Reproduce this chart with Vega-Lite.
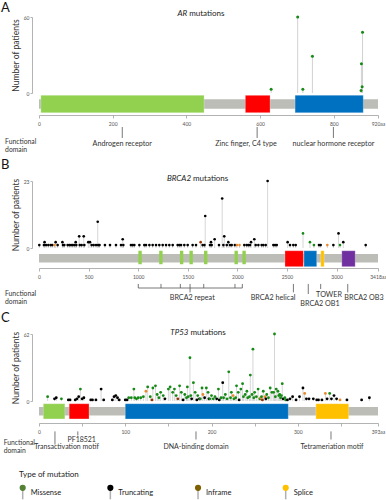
{
"$schema":"https://vega.github.io/schema/vega-lite/v6.json",
"padding":{"left":1,"top":2,"right":0,"bottom":0},
"background":"white",
"config":{"view":{"stroke":null},"font":"Lato",
 "axis":{"grid":false,"domainColor":"#a0a0a0","tickColor":"#a0a0a0","domainWidth":0.8,"tickWidth":0.8,"labelFont":"Lato","labelFontSize":5,"labelColor":"#555555","labelFlush":false,"labelOverlap":false,"labelBound":false,"titleFont":"Lato","titleFontWeight":"normal","titleColor":"#333333"}},
"datasets":{
"one":[{}],
"proteins":[{"gene":"AR","start":0,"length":920},{"gene":"BRCA2","start":0,"length":3418},{"gene":"TP53","start":0,"length":393}],
"types":[{"type":"Missense"},{"type":"Truncating"},{"type":"Inframe"},{"type":"Splice"}],
"arMut":[{"pos":630,"count":3,"type":"Missense"},{"pos":702,"count":60,"type":"Missense"},{"pos":716,"count":3,"type":"Missense"},{"pos":742,"count":29,"type":"Missense"},{"pos":874,"count":2,"type":"Missense"},{"pos":875,"count":23,"type":"Missense"},{"pos":877,"count":5,"type":"Missense"},{"pos":878,"count":48,"type":"Missense"}],
"brcaMut":[{"pos":3,"count":1,"type":"Truncating"},{"pos":50,"count":1,"type":"Truncating"},{"pos":56,"count":2,"type":"Truncating"},{"pos":71,"count":1,"type":"Truncating"},{"pos":94,"count":1,"type":"Truncating"},{"pos":118,"count":1,"type":"Truncating"},{"pos":134,"count":1,"type":"Truncating"},{"pos":155,"count":1,"type":"Splice"},{"pos":168,"count":2,"type":"Truncating"},{"pos":188,"count":1,"type":"Truncating"},{"pos":236,"count":2,"type":"Truncating"},{"pos":242,"count":1,"type":"Truncating"},{"pos":255,"count":1,"type":"Truncating"},{"pos":289,"count":1,"type":"Truncating"},{"pos":306,"count":1,"type":"Truncating"},{"pos":323,"count":1,"type":"Truncating"},{"pos":339,"count":1,"type":"Truncating"},{"pos":356,"count":1,"type":"Truncating"},{"pos":370,"count":2,"type":"Truncating"},{"pos":376,"count":1,"type":"Truncating"},{"pos":405,"count":4,"type":"Truncating"},{"pos":411,"count":1,"type":"Truncating"},{"pos":430,"count":1,"type":"Truncating"},{"pos":451,"count":4,"type":"Truncating"},{"pos":457,"count":1,"type":"Truncating"},{"pos":497,"count":2,"type":"Truncating"},{"pos":514,"count":2,"type":"Truncating"},{"pos":531,"count":1,"type":"Truncating"},{"pos":551,"count":1,"type":"Truncating"},{"pos":575,"count":1,"type":"Truncating"},{"pos":592,"count":9,"type":"Truncating"},{"pos":597,"count":1,"type":"Truncating"},{"pos":610,"count":1,"type":"Truncating"},{"pos":665,"count":1,"type":"Truncating"},{"pos":716,"count":1,"type":"Truncating"},{"pos":776,"count":1,"type":"Truncating"},{"pos":827,"count":1,"type":"Truncating"},{"pos":844,"count":3,"type":"Truncating"},{"pos":850,"count":1,"type":"Truncating"},{"pos":927,"count":1,"type":"Truncating"},{"pos":944,"count":1,"type":"Truncating"},{"pos":961,"count":1,"type":"Truncating"},{"pos":1012,"count":1,"type":"Truncating"},{"pos":1062,"count":1,"type":"Truncating"},{"pos":1079,"count":1,"type":"Truncating"},{"pos":1113,"count":1,"type":"Truncating"},{"pos":1146,"count":1,"type":"Truncating"},{"pos":1180,"count":1,"type":"Truncating"},{"pos":1213,"count":1,"type":"Truncating"},{"pos":1247,"count":1,"type":"Truncating"},{"pos":1281,"count":1,"type":"Truncating"},{"pos":1314,"count":1,"type":"Truncating"},{"pos":1348,"count":1,"type":"Truncating"},{"pos":1398,"count":1,"type":"Truncating"},{"pos":1415,"count":1,"type":"Truncating"},{"pos":1432,"count":1,"type":"Truncating"},{"pos":1465,"count":1,"type":"Truncating"},{"pos":1499,"count":1,"type":"Truncating"},{"pos":1549,"count":1,"type":"Truncating"},{"pos":1583,"count":1,"type":"Truncating"},{"pos":1630,"count":2,"type":"Inframe"},{"pos":1650,"count":1,"type":"Truncating"},{"pos":1668,"count":1,"type":"Truncating"},{"pos":1676,"count":11,"type":"Truncating"},{"pos":1724,"count":1,"type":"Truncating"},{"pos":1734,"count":2,"type":"Truncating"},{"pos":1741,"count":1,"type":"Truncating"},{"pos":1771,"count":3,"type":"Truncating"},{"pos":1815,"count":1,"type":"Truncating"},{"pos":1847,"count":17,"type":"Truncating"},{"pos":1859,"count":1,"type":"Truncating"},{"pos":1868,"count":4,"type":"Truncating"},{"pos":1893,"count":1,"type":"Truncating"},{"pos":1909,"count":2,"type":"Truncating"},{"pos":1926,"count":1,"type":"Truncating"},{"pos":1943,"count":1,"type":"Truncating"},{"pos":1975,"count":1,"type":"Truncating"},{"pos":1995,"count":1,"type":"Splice"},{"pos":2022,"count":1,"type":"Splice"},{"pos":2070,"count":1,"type":"Truncating"},{"pos":2094,"count":1,"type":"Truncating"},{"pos":2111,"count":1,"type":"Truncating"},{"pos":2128,"count":1,"type":"Truncating"},{"pos":2138,"count":2,"type":"Truncating"},{"pos":2171,"count":3,"type":"Truncating"},{"pos":2185,"count":1,"type":"Truncating"},{"pos":2212,"count":1,"type":"Truncating"},{"pos":2245,"count":1,"type":"Truncating"},{"pos":2262,"count":1,"type":"Truncating"},{"pos":2286,"count":1,"type":"Truncating"},{"pos":2305,"count":23,"type":"Truncating"},{"pos":2363,"count":1,"type":"Truncating"},{"pos":2380,"count":1,"type":"Truncating"},{"pos":2397,"count":1,"type":"Truncating"},{"pos":2507,"count":2,"type":"Truncating"},{"pos":2531,"count":1,"type":"Truncating"},{"pos":2564,"count":1,"type":"Truncating"},{"pos":2588,"count":1,"type":"Truncating"},{"pos":2662,"count":5,"type":"Missense"},{"pos":2732,"count":2,"type":"Missense"},{"pos":2772,"count":1,"type":"Missense"},{"pos":2823,"count":1,"type":"Truncating"},{"pos":2840,"count":1,"type":"Truncating"},{"pos":2907,"count":1,"type":"Splice"},{"pos":2968,"count":1,"type":"Truncating"},{"pos":3020,"count":5,"type":"Truncating"},{"pos":3035,"count":1,"type":"Missense"},{"pos":3068,"count":2,"type":"Truncating"},{"pos":3294,"count":1,"type":"Truncating"}],
"tpMut":[{"pos":10,"count":4,"type":"Missense"},{"pos":18,"count":2,"type":"Truncating"},{"pos":20,"count":3,"type":"Truncating"},{"pos":26,"count":2,"type":"Missense"},{"pos":34,"count":1,"type":"Truncating"},{"pos":36,"count":1,"type":"Truncating"},{"pos":42,"count":1,"type":"Truncating"},{"pos":44,"count":2,"type":"Truncating"},{"pos":46,"count":4,"type":"Truncating"},{"pos":48,"count":11,"type":"Missense"},{"pos":50,"count":2,"type":"Truncating"},{"pos":52,"count":3,"type":"Truncating"},{"pos":60,"count":1,"type":"Truncating"},{"pos":62,"count":1,"type":"Truncating"},{"pos":66,"count":1,"type":"Truncating"},{"pos":72,"count":11,"type":"Truncating"},{"pos":75,"count":1,"type":"Truncating"},{"pos":85,"count":1,"type":"Truncating"},{"pos":87,"count":4,"type":"Truncating"},{"pos":89,"count":5,"type":"Truncating"},{"pos":91,"count":3,"type":"Truncating"},{"pos":93,"count":1,"type":"Truncating"},{"pos":100,"count":1,"type":"Truncating"},{"pos":102,"count":1,"type":"Truncating"},{"pos":104,"count":3,"type":"Missense"},{"pos":107,"count":3,"type":"Missense"},{"pos":110,"count":11,"type":"Missense"},{"pos":111,"count":3,"type":"Missense"},{"pos":113,"count":2,"type":"Missense"},{"pos":115,"count":3,"type":"Missense"},{"pos":118,"count":3,"type":"Missense"},{"pos":121,"count":4,"type":"Missense"},{"pos":124,"count":9,"type":"Splice"},{"pos":126,"count":13,"type":"Missense"},{"pos":129,"count":4,"type":"Missense"},{"pos":131,"count":1,"type":"Inframe"},{"pos":132,"count":12,"type":"Missense"},{"pos":135,"count":14,"type":"Missense"},{"pos":137,"count":6,"type":"Missense"},{"pos":139,"count":3,"type":"Missense"},{"pos":141,"count":8,"type":"Missense"},{"pos":144,"count":5,"type":"Missense"},{"pos":146,"count":2,"type":"Truncating"},{"pos":150,"count":11,"type":"Missense"},{"pos":152,"count":13,"type":"Missense"},{"pos":155,"count":8,"type":"Missense"},{"pos":157,"count":11,"type":"Missense"},{"pos":159,"count":5,"type":"Missense"},{"pos":161,"count":2,"type":"Inframe"},{"pos":163,"count":14,"type":"Missense"},{"pos":165,"count":8,"type":"Missense"},{"pos":167,"count":1,"type":"Truncating"},{"pos":169,"count":6,"type":"Missense"},{"pos":171,"count":3,"type":"Missense"},{"pos":172,"count":13,"type":"Missense"},{"pos":173,"count":4,"type":"Missense"},{"pos":175,"count":40,"type":"Missense"},{"pos":176,"count":5,"type":"Missense"},{"pos":177,"count":2,"type":"Truncating"},{"pos":179,"count":17,"type":"Missense"},{"pos":181,"count":8,"type":"Missense"},{"pos":183,"count":1,"type":"Truncating"},{"pos":184,"count":5,"type":"Missense"},{"pos":186,"count":2,"type":"Truncating"},{"pos":187,"count":2,"type":"Missense"},{"pos":189,"count":12,"type":"Missense"},{"pos":190,"count":6,"type":"Splice"},{"pos":192,"count":3,"type":"Truncating"},{"pos":194,"count":12,"type":"Missense"},{"pos":196,"count":8,"type":"Missense"},{"pos":197,"count":2,"type":"Truncating"},{"pos":198,"count":2,"type":"Missense"},{"pos":200,"count":5,"type":"Missense"},{"pos":202,"count":2,"type":"Missense"},{"pos":204,"count":4,"type":"Missense"},{"pos":206,"count":2,"type":"Truncating"},{"pos":208,"count":11,"type":"Missense"},{"pos":209,"count":1,"type":"Truncating"},{"pos":211,"count":3,"type":"Missense"},{"pos":213,"count":17,"type":"Truncating"},{"pos":214,"count":3,"type":"Missense"},{"pos":216,"count":6,"type":"Missense"},{"pos":218,"count":2,"type":"Missense"},{"pos":220,"count":27,"type":"Missense"},{"pos":222,"count":3,"type":"Missense"},{"pos":223,"count":8,"type":"Missense"},{"pos":225,"count":5,"type":"Splice"},{"pos":226,"count":2,"type":"Missense"},{"pos":228,"count":3,"type":"Missense"},{"pos":229,"count":14,"type":"Missense"},{"pos":231,"count":8,"type":"Missense"},{"pos":232,"count":1,"type":"Truncating"},{"pos":234,"count":11,"type":"Missense"},{"pos":236,"count":16,"type":"Missense"},{"pos":237,"count":4,"type":"Missense"},{"pos":239,"count":6,"type":"Missense"},{"pos":241,"count":9,"type":"Missense"},{"pos":242,"count":3,"type":"Missense"},{"pos":244,"count":4,"type":"Missense"},{"pos":245,"count":24,"type":"Missense"},{"pos":247,"count":6,"type":"Missense"},{"pos":248,"count":48,"type":"Missense"},{"pos":249,"count":3,"type":"Missense"},{"pos":250,"count":8,"type":"Missense"},{"pos":252,"count":4,"type":"Missense"},{"pos":254,"count":11,"type":"Missense"},{"pos":256,"count":2,"type":"Missense"},{"pos":257,"count":3,"type":"Splice"},{"pos":258,"count":4,"type":"Missense"},{"pos":259,"count":1,"type":"Inframe"},{"pos":260,"count":9,"type":"Missense"},{"pos":262,"count":4,"type":"Splice"},{"pos":263,"count":2,"type":"Truncating"},{"pos":264,"count":6,"type":"Missense"},{"pos":266,"count":3,"type":"Missense"},{"pos":268,"count":12,"type":"Missense"},{"pos":270,"count":8,"type":"Missense"},{"pos":272,"count":8,"type":"Missense"},{"pos":273,"count":62,"type":"Missense"},{"pos":274,"count":4,"type":"Missense"},{"pos":275,"count":11,"type":"Missense"},{"pos":277,"count":9,"type":"Missense"},{"pos":278,"count":5,"type":"Missense"},{"pos":279,"count":6,"type":"Missense"},{"pos":280,"count":3,"type":"Missense"},{"pos":281,"count":5,"type":"Missense"},{"pos":282,"count":16,"type":"Missense"},{"pos":283,"count":2,"type":"Truncating"},{"pos":285,"count":3,"type":"Missense"},{"pos":286,"count":1,"type":"Missense"},{"pos":288,"count":1,"type":"Truncating"},{"pos":291,"count":2,"type":"Truncating"},{"pos":294,"count":4,"type":"Truncating"},{"pos":298,"count":1,"type":"Truncating"},{"pos":302,"count":4,"type":"Truncating"},{"pos":306,"count":12,"type":"Truncating"},{"pos":308,"count":7,"type":"Splice"},{"pos":310,"count":2,"type":"Truncating"},{"pos":313,"count":2,"type":"Truncating"},{"pos":318,"count":2,"type":"Truncating"},{"pos":322,"count":1,"type":"Truncating"},{"pos":324,"count":1,"type":"Truncating"},{"pos":328,"count":1,"type":"Truncating"},{"pos":332,"count":7,"type":"Splice"},{"pos":334,"count":2,"type":"Truncating"},{"pos":337,"count":7,"type":"Missense"},{"pos":339,"count":2,"type":"Truncating"},{"pos":342,"count":5,"type":"Truncating"},{"pos":345,"count":2,"type":"Truncating"},{"pos":349,"count":1,"type":"Splice"},{"pos":357,"count":1,"type":"Truncating"},{"pos":374,"count":1,"type":"Truncating"},{"pos":383,"count":3,"type":"Truncating"}],
"arDom":[{"domain":"Androgen receptor","start":5,"end":448},{"domain":"Zinc finger, C4 type","start":560,"end":627},{"domain":"nuclear hormone receptor","start":695,"end":880}],
"brcaDom":[{"domain":"BRCA2 helical","start":2480,"end":2666},{"domain":"BRCA2 OB1","start":2672,"end":2800},{"domain":"TOWER","start":2841,"end":2875},{"domain":"BRCA2 OB3","start":3053,"end":3188}],
"brcaRep":[{"start":1002,"end":1036},{"start":1212,"end":1246},{"start":1421,"end":1455},{"start":1517,"end":1551},{"start":1664,"end":1698},{"start":1971,"end":2005},{"start":2051,"end":2085}],
"tpDom":[{"domain":"Transactivation motif","start":5,"end":30},{"domain":"PF18521","start":35,"end":58},{"domain":"DNA-binding domain","start":100,"end":289},{"domain":"Tetrameriation motif","start":321,"end":359}],
"arAnn":[{"name":"Androgen receptor","at":226,"labelAt":226},{"name":"Zinc finger, C4 type","at":592,"labelAt":562},{"name":"nuclear hormone receptor","at":799,"labelAt":799}],
"brcaAnn":[{"name":"BRCA2 repeat","at":1523,"labelAt":1545},{"name":"BRCA2 helical","at":2565,"labelAt":2360},{"name":"BRCA2 OB1","at":2715,"labelAt":2833},{"name":"TOWER","at":2840,"labelAt":2924},{"name":"BRCA2 OB3","at":3113,"labelAt":3277}],
"brcaBracket":[{"at":1001},{"at":1230},{"at":1425},{"at":1523},{"at":1661},{"at":1976},{"at":2050}],
"brcaSpan":[{"from":1001,"to":2050}],
"tpAnn":[{"name":"Transactivation motif","at":18.5,"labelAt":32},{"name":"PF18521","at":45,"labelAt":49.5},{"name":"DNA-binding domain","at":182,"labelAt":182},{"name":"Tetrameriation motif","at":338.5,"labelAt":339.7}]
},
"spacing":0,
"bounds":"flush",
"resolve":{"scale":{"x":"independent","y":"independent","color":"independent"}},
"vconcat":[
 {"width":339,"height":76,
  "layer":[
   {"data":{"name":"arMut"},"mark":{"type":"rule","color":"#cccccc","strokeWidth":0.9},
    "encoding":{"x":{"field":"pos","type":"quantitative","scale":{"domain":[0,920],"nice":false,"zero":false},"axis":null},
     "y":{"field":"count","type":"quantitative","scale":{"domain":[0,60],"nice":false},"axis":{"title":"Number of patients","titleFontSize":8.5,"titlePadding":3,"values":[0,10,20,30,40,50,60],"labelExpr":"datum.value==0||datum.value==60?datum.label:''","tickSize":2,"labelPadding":1,"offset":7}},
     "y2":{"datum":0}}},
   {"data":{"name":"arMut"},"mark":{"type":"point","filled":true,"opacity":1,"size":9},
    "encoding":{"x":{"field":"pos","type":"quantitative","axis":null},"y":{"field":"count","type":"quantitative"},
     "color":{"field":"type","type":"nominal","scale":{"domain":["Missense","Truncating","Inframe","Splice"],"range":["#168a16","#000000","#993404","#e8892f"]},"legend":null}}},
   {"data":{"name":"one"},"mark":{"type":"text","text":"A","fontSize":13,"align":"left","baseline":"middle","color":"#111111"},
    "encoding":{"x":{"datum":-103,"type":"quantitative","axis":null},"y":{"datum":67,"type":"quantitative"}}},
   {"data":{"name":"one"},"mark":{"type":"text","text":"AR","fontSize":8,"fontStyle":"italic","align":"right","baseline":"middle","color":"#222222"},
    "encoding":{"x":{"datum":402,"type":"quantitative","axis":null},"y":{"datum":62.6,"type":"quantitative"}}},
   {"data":{"name":"one"},"mark":{"type":"text","text":"mutations","fontSize":8,"align":"left","baseline":"middle","dx":2,"color":"#222222"},
    "encoding":{"x":{"datum":402,"type":"quantitative","axis":null},"y":{"datum":62.6,"type":"quantitative"}}}
  ]},
 {"width":339,"height":88,
  "layer":[
   {"data":{"name":"proteins"},"transform":[{"filter":"datum.gene=='AR'"}],"mark":{"type":"rect","color":"#bdbdb7"},
    "encoding":{"x":{"field":"start","type":"quantitative","scale":{"domain":[0,920],"nice":false,"zero":false},"axis":{"title":null,"offset":-66,"values":[0,100,200,300,400,500,600,700,800,900,920],"format":"d","labelExpr":"datum.value==920?'920aa':(datum.value%200==0?datum.label:'')","tickSize":3,"labelPadding":3}},
     "x2":{"field":"length"},
     "y":{"datum":0.286,"type":"quantitative","scale":{"domain":[-3,1],"nice":false,"zero":false},"axis":null},"y2":{"datum":0.714}}},
   {"data":{"name":"arDom"},"mark":{"type":"rect","stroke":"#ffffff","strokeWidth":0.5,"strokeOpacity":0.5},
    "encoding":{"x":{"field":"start","type":"quantitative","title":null},"x2":{"field":"end"},
     "y":{"datum":0.105,"type":"quantitative","axis":null},"y2":{"datum":0.895},
     "color":{"field":"domain","type":"nominal","scale":{"domain":["Androgen receptor","Zinc finger, C4 type","nuclear hormone receptor"],"range":["#92d050","#ff0000","#0070c0"]},"legend":null}}},
   {"data":{"name":"arAnn"},"mark":{"type":"rule","color":"#555555","strokeWidth":0.8},
    "encoding":{"x":{"field":"at","type":"quantitative","title":null},"y":{"datum":-0.545,"type":"quantitative","axis":null},"y2":{"datum":-1.045}}},
   {"data":{"name":"arAnn"},"mark":{"type":"text","fontSize":7.2,"color":"#333333","baseline":"middle"},
    "encoding":{"x":{"field":"labelAt","type":"quantitative","title":null},"y":{"datum":-1.318,"type":"quantitative","axis":null},"text":{"field":"name"}}},
   {"data":{"name":"one"},"mark":{"type":"text","text":["Functional","domain"],"align":"left","baseline":"middle","fontSize":6.8,"lineHeight":8.3,"color":"#333333"},
    "encoding":{"x":{"datum":-92,"type":"quantitative","title":null},"y":{"datum":-1.22,"type":"quantitative","axis":null}}}
  ]},
 {"width":339,"height":67,
  "layer":[
   {"data":{"name":"brcaMut"},"mark":{"type":"rule","color":"#cccccc","strokeWidth":0.8},
    "encoding":{"x":{"field":"pos","type":"quantitative","scale":{"domain":[0,3418],"nice":false,"zero":false},"axis":null},
     "y":{"field":"count","type":"quantitative","scale":{"domain":[0,23],"nice":false},"axis":{"title":"Number of patients","titleFontSize":8.5,"titlePadding":3,"values":[0,5,10,15,20,23],"labelExpr":"datum.value==0||datum.value==23?datum.label:''","tickSize":2,"labelPadding":1,"offset":7}},
     "y2":{"datum":0}}},
   {"data":{"name":"brcaMut"},"mark":{"type":"point","filled":true,"opacity":1,"size":7},
    "encoding":{"x":{"field":"pos","type":"quantitative","axis":null},"y":{"field":"count","type":"quantitative"},
     "color":{"field":"type","type":"nominal","scale":{"domain":["Missense","Truncating","Inframe","Splice"],"range":["#168a16","#000000","#993404","#e8892f"]},"legend":null}}},
   {"data":{"name":"one"},"mark":{"type":"text","text":"B","fontSize":13,"align":"left","baseline":"middle","color":"#111111"},
    "encoding":{"x":{"datum":-383,"type":"quantitative","axis":null},"y":{"datum":28.4,"type":"quantitative"}}},
   {"data":{"name":"one"},"mark":{"type":"text","text":"BRCA2","fontSize":8,"fontStyle":"italic","align":"right","baseline":"middle","color":"#222222"},
    "encoding":{"x":{"datum":1533,"type":"quantitative","axis":null},"y":{"datum":23.6,"type":"quantitative"}}},
   {"data":{"name":"one"},"mark":{"type":"text","text":"mutations","fontSize":8,"align":"left","baseline":"middle","dx":2,"color":"#222222"},
    "encoding":{"x":{"datum":1533,"type":"quantitative","axis":null},"y":{"datum":23.6,"type":"quantitative"}}}
  ]},
 {"width":339,"height":86,
  "layer":[
   {"data":{"name":"proteins"},"transform":[{"filter":"datum.gene=='BRCA2'"}],"mark":{"type":"rect","color":"#bdbdb7"},
    "encoding":{"x":{"field":"start","type":"quantitative","scale":{"domain":[0,3418],"nice":false,"zero":false},"axis":{"title":null,"offset":-66,"values":[0,250,500,750,1000,1250,1500,1750,2000,2250,2500,2750,3000,3250,3418],"format":"d","labelExpr":"datum.value==3418?'3418aa':(datum.value%500==0?datum.label:'')","tickSize":3,"labelPadding":3}},
     "x2":{"field":"length"},
     "y":{"datum":0.27,"type":"quantitative","scale":{"domain":[-3.3,1],"nice":false,"zero":false},"axis":null},"y2":{"datum":0.695}}},
   {"data":{"name":"brcaRep"},"mark":{"type":"rect","color":"#92d050"},
    "encoding":{"x":{"field":"start","type":"quantitative","title":null},"x2":{"field":"end"},
     "y":{"datum":0.188,"type":"quantitative","axis":null},"y2":{"datum":0.863}}},
   {"data":{"name":"brcaDom"},"mark":{"type":"rect","stroke":"#ffffff","strokeWidth":0.5,"strokeOpacity":0.5},
    "encoding":{"x":{"field":"start","type":"quantitative","title":null},"x2":{"field":"end"},
     "y":{"datum":0.066,"type":"quantitative","axis":null},"y2":{"datum":0.863},
     "color":{"field":"domain","type":"nominal","scale":{"domain":["BRCA2 helical","BRCA2 OB1","TOWER","BRCA2 OB3"],"range":["#ff0000","#0070c0","#ffc000","#7030a0"]},"legend":null}}},
   {"data":{"name":"brcaBracket"},"mark":{"type":"rule","color":"#555555","strokeWidth":0.8},
    "encoding":{"x":{"field":"at","type":"quantitative","title":null},"y":{"datum":-0.797,"type":"quantitative","axis":null},"y2":{"datum":-1.0}}},
   {"data":{"name":"brcaSpan"},"mark":{"type":"rule","color":"#555555","strokeWidth":0.8},
    "encoding":{"x":{"field":"from","type":"quantitative","title":null},"x2":{"field":"to"},"y":{"datum":-1.0,"type":"quantitative","axis":null}}},
   {"data":{"name":"brcaAnn"},"transform":[{"filter":"datum.name=='BRCA2 repeat'"}],"mark":{"type":"rule","color":"#555555","strokeWidth":0.8},
    "encoding":{"x":{"field":"at","type":"quantitative","title":null},"y":{"datum":-1.0,"type":"quantitative","axis":null},"y2":{"datum":-1.218}}},
   {"data":{"name":"brcaAnn"},"transform":[{"filter":"datum.name=='BRCA2 helical'||datum.name=='BRCA2 OB3'"}],"mark":{"type":"rule","color":"#555555","strokeWidth":0.8},
    "encoding":{"x":{"field":"at","type":"quantitative","title":null},"y":{"datum":-0.797,"type":"quantitative","axis":null},"y2":{"datum":-1.218}}},
   {"data":{"name":"brcaAnn"},"transform":[{"filter":"datum.name=='BRCA2 OB1'"}],"mark":{"type":"rule","color":"#555555","strokeWidth":0.8},
    "encoding":{"x":{"field":"at","type":"quantitative","title":null},"y":{"datum":-0.797,"type":"quantitative","axis":null},"y2":{"datum":-1.3}}},
   {"data":{"name":"brcaAnn"},"transform":[{"filter":"datum.name=='TOWER'"}],"mark":{"type":"rule","color":"#555555","strokeWidth":0.8},
    "encoding":{"x":{"field":"at","type":"quantitative","title":null},"y":{"datum":-0.797,"type":"quantitative","axis":null},"y2":{"datum":-1.05}}},
   {"data":{"name":"brcaAnn"},"transform":[{"filter":"datum.name=='BRCA2 repeat'||datum.name=='BRCA2 helical'||datum.name=='BRCA2 OB3'"}],"mark":{"type":"text","fontSize":7.2,"color":"#333333","baseline":"middle"},
    "encoding":{"x":{"field":"labelAt","type":"quantitative","title":null},"y":{"datum":-1.508,"type":"quantitative","axis":null},"text":{"field":"name"}}},
   {"data":{"name":"brcaAnn"},"transform":[{"filter":"datum.name=='BRCA2 OB1'"}],"mark":{"type":"text","fontSize":7.2,"color":"#333333","baseline":"middle"},
    "encoding":{"x":{"field":"labelAt","type":"quantitative","title":null},"y":{"datum":-1.777,"type":"quantitative","axis":null},"text":{"field":"name"}}},
   {"data":{"name":"brcaAnn"},"transform":[{"filter":"datum.name=='TOWER'"}],"mark":{"type":"text","fontSize":7.2,"color":"#333333","baseline":"middle"},
    "encoding":{"x":{"field":"labelAt","type":"quantitative","title":null},"y":{"datum":-1.335,"type":"quantitative","axis":null},"text":{"field":"name"}}},
   {"data":{"name":"one"},"mark":{"type":"text","text":["Functional","domain"],"align":"left","baseline":"middle","fontSize":6.8,"lineHeight":8.3,"color":"#333333"},
    "encoding":{"x":{"datum":-343,"type":"quantitative","title":null},"y":{"datum":-1.294,"type":"quantitative","axis":null}}}
  ]},
 {"width":339,"height":67,
  "layer":[
   {"data":{"name":"tpMut"},"mark":{"type":"rule","color":"#cccccc","strokeWidth":0.8},
    "encoding":{"x":{"field":"pos","type":"quantitative","scale":{"domain":[0,393],"nice":false,"zero":false},"axis":null},
     "y":{"field":"count","type":"quantitative","scale":{"domain":[0,62],"nice":false},"axis":{"title":"Number of patients","titleFontSize":8.5,"titlePadding":3,"values":[0,10,20,30,40,50,60,62],"labelExpr":"datum.value==0||datum.value==62?datum.label:''","tickSize":2,"labelPadding":1,"offset":7}},
     "y2":{"datum":0}}},
   {"data":{"name":"tpMut"},"mark":{"type":"point","filled":true,"opacity":1,"size":8},
    "encoding":{"x":{"field":"pos","type":"quantitative","axis":null},"y":{"field":"count","type":"quantitative"},
     "color":{"field":"type","type":"nominal","scale":{"domain":["Missense","Truncating","Inframe","Splice"],"range":["#168a16","#000000","#993404","#e8892f"]},"legend":null}}},
   {"data":{"name":"one"},"mark":{"type":"text","text":"C","fontSize":13,"align":"left","baseline":"middle","color":"#111111"},
    "encoding":{"x":{"datum":-44,"type":"quantitative","axis":null},"y":{"datum":76.7,"type":"quantitative"}}},
   {"data":{"name":"one"},"mark":{"type":"text","text":"TP53","fontSize":8,"fontStyle":"italic","align":"right","baseline":"middle","color":"#222222"},
    "encoding":{"x":{"datum":173.3,"type":"quantitative","axis":null},"y":{"datum":62.9,"type":"quantitative"}}},
   {"data":{"name":"one"},"mark":{"type":"text","text":"mutations","fontSize":8,"align":"left","baseline":"middle","dx":2,"color":"#222222"},
    "encoding":{"x":{"datum":173.3,"type":"quantitative","axis":null},"y":{"datum":62.9,"type":"quantitative"}}}
  ]},
 {"width":339,"height":88,
  "layer":[
   {"data":{"name":"proteins"},"transform":[{"filter":"datum.gene=='TP53'"}],"mark":{"type":"rect","color":"#bdbdb7"},
    "encoding":{"x":{"field":"start","type":"quantitative","scale":{"domain":[0,393],"nice":false,"zero":false},"axis":{"title":null,"offset":-66,"values":[0,50,100,150,200,250,300,350,393],"format":"d","labelExpr":"datum.value==393?'393aa':(datum.value%100==0?datum.label:'')","tickSize":3,"labelPadding":3}},
     "x2":{"field":"length"},
     "y":{"datum":0.341,"type":"quantitative","scale":{"domain":[-3,1],"nice":false,"zero":false},"axis":null},"y2":{"datum":0.723}}},
   {"data":{"name":"tpDom"},"mark":{"type":"rect","stroke":"#ffffff","strokeWidth":0.5,"strokeOpacity":0.5},
    "encoding":{"x":{"field":"start","type":"quantitative","title":null},"x2":{"field":"end"},
     "y":{"datum":0.184,"type":"quantitative","axis":null},"y2":{"datum":0.876},
     "color":{"field":"domain","type":"nominal","scale":{"domain":["Transactivation motif","PF18521","DNA-binding domain","Tetrameriation motif"],"range":["#92d050","#ff0000","#0070c0","#ffc000"]},"legend":null}}},
   {"data":{"name":"tpAnn"},"transform":[{"filter":"datum.name=='Transactivation motif'"}],"mark":{"type":"rule","color":"#555555","strokeWidth":0.8},
    "encoding":{"x":{"field":"at","type":"quantitative","title":null},"y":{"datum":-0.382,"type":"quantitative","axis":null},"y2":{"datum":-0.98}}},
   {"data":{"name":"tpAnn"},"transform":[{"filter":"datum.name=='PF18521'"}],"mark":{"type":"rule","color":"#555555","strokeWidth":0.8},
    "encoding":{"x":{"field":"at","type":"quantitative","title":null},"y":{"datum":-0.382,"type":"quantitative","axis":null},"y2":{"datum":-0.567}}},
   {"data":{"name":"tpAnn"},"transform":[{"filter":"datum.name=='DNA-binding domain'||datum.name=='Tetrameriation motif'"}],"mark":{"type":"rule","color":"#555555","strokeWidth":0.8},
    "encoding":{"x":{"field":"at","type":"quantitative","title":null},"y":{"datum":-0.382,"type":"quantitative","axis":null},"y2":{"datum":-0.75}}},
   {"data":{"name":"tpAnn"},"transform":[{"filter":"datum.name=='PF18521'"}],"mark":{"type":"text","fontSize":7,"color":"#333333","baseline":"middle"},
    "encoding":{"x":{"field":"labelAt","type":"quantitative","title":null},"y":{"datum":-0.765,"type":"quantitative","axis":null},"text":{"field":"name"}}},
   {"data":{"name":"tpAnn"},"transform":[{"filter":"datum.name!='PF18521'"}],"mark":{"type":"text","fontSize":7,"color":"#333333","baseline":"middle"},
    "encoding":{"x":{"field":"labelAt","type":"quantitative","title":null},"y":{"datum":-1.074,"type":"quantitative","axis":null},"text":{"field":"name"}}},
   {"data":{"name":"one"},"mark":{"type":"text","text":["Functional","domain"],"align":"left","baseline":"middle","fontSize":6.8,"lineHeight":8,"color":"#333333"},
    "encoding":{"x":{"datum":-41,"type":"quantitative","title":null},"y":{"datum":-0.89,"type":"quantitative","axis":null}}}
  ]},
 {"width":339,"height":12,
  "data":{"name":"types"},
  "layer":[
   {"mark":{"type":"rule","color":"#b0b0b0","strokeWidth":1.5},
    "encoding":{"x":{"field":"type","type":"nominal","sort":null,"scale":{"type":"point","domain":["Missense","Truncating","Inframe","Splice"],"range":[-16.3,246.7],"padding":0},"axis":null},
     "y":{"datum":1.1,"type":"quantitative","scale":{"domain":[0,1],"nice":false,"zero":false},"axis":null},"y2":{"datum":0.14}}},
   {"mark":{"type":"point","filled":true,"opacity":1,"size":38},
    "encoding":{"x":{"field":"type","type":"nominal","sort":null,"axis":null},"y":{"datum":1.1,"type":"quantitative","axis":null},
     "color":{"field":"type","type":"nominal","scale":{"domain":["Missense","Truncating","Inframe","Splice"],"range":["#548235","#000000","#7f6000","#ffc000"]},"legend":null}}},
   {"mark":{"type":"text","align":"left","baseline":"middle","dx":8,"fontSize":7.5,"color":"#222222"},
    "encoding":{"x":{"field":"type","type":"nominal","sort":null,"axis":null},"y":{"datum":0.69,"type":"quantitative","axis":null},"text":{"field":"type"}}},
   {"data":{"name":"one"},"mark":{"type":"text","text":"Type of mutation","align":"left","baseline":"middle","dx":-3.7,"fontSize":8,"color":"#222222"},
    "encoding":{"x":{"datum":"Missense","type":"nominal","axis":null},"y":{"datum":2.2,"type":"quantitative","axis":null}}}
  ]}
]
}
